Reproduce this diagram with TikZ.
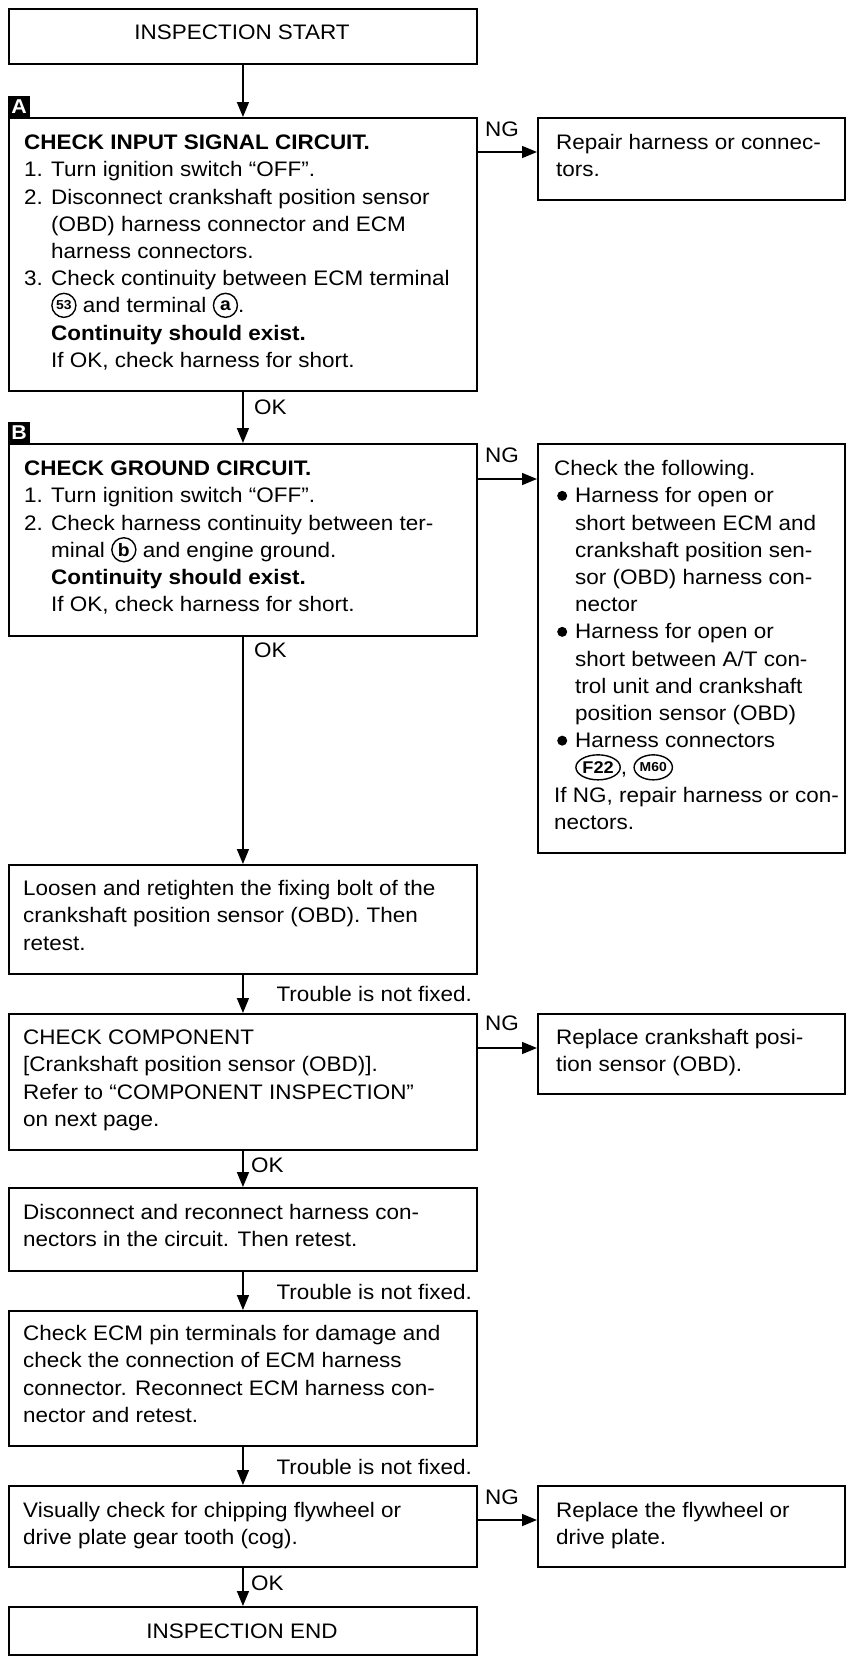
\documentclass[tikz,border=0pt]{standalone}
\usepackage{fontspec}
\setmainfont{Liberation Sans}[FakeStretch=1.07]
\usetikzlibrary{arrows.meta,shapes.geometric}
\newcommand{\bodyfont}{\fontsize{21}{27.2}\selectfont}
\newcommand{\cnum}[2][13]{\smash{\tikz[baseline=-7.5pt]\node[circle,draw,line width=1.4pt,minimum size=24pt,inner sep=0pt,anchor=center,font=\bfseries\fontsize{#1}{#1}\selectfont] (cn) {#2};}}
\newcommand{\connlab}[3]{\smash{\tikz[baseline=-7.5pt]\node[ellipse,draw,line width=1.4pt,minimum width=#1,minimum height=25pt,inner sep=0pt,anchor=center,font=\bfseries\fontsize{#2}{#2}\selectfont] (cc) {#3};}}
\newcommand{\bulmark}{\makebox[21pt][l]{\hspace*{3pt}\smash{\tikz[baseline=-7pt]\fill (0,0) circle (5pt);}}}
\newcommand{\stepnum}[1]{\makebox[27pt][l]{#1}}
\newcommand{\indA}{\hspace*{27pt}}
\newcommand{\indB}{\hspace*{21pt}}
\tikzset{
  box/.style={draw, line width=1.9pt, rectangle, inner sep=0pt, anchor=north west},
  mainbox/.style={box, minimum width=468pt},
  sidebox/.style={box, minimum width=307pt},
  txt/.style={anchor=north west, inner sep=0pt, align=left, font=\bodyfont},
  lbl/.style={inner sep=0pt, font=\bodyfont},
  arr/.style={line width=1.5pt, -{Triangle[length=15pt,width=12pt]}},
  tag/.style={fill=black, text=white, inner sep=0pt, minimum width=22pt, minimum height=21pt, anchor=south west, font=\bfseries\fontsize{20}{20}\selectfont},
}
\begin{document}
\begin{tikzpicture}[x=1pt,y=-1pt]
\fill[white] (0,0) rectangle (846,1657);
\useasboundingbox (0,0) rectangle (846,1657);

% boxes
\node[mainbox, minimum height=55pt] (start) at (8,8) {};
\node[mainbox, minimum height=273pt] (A) at (8,117) {};
\node[sidebox, minimum height=82pt] (R1) at (537,117) {};
\node[mainbox, minimum height=192pt] (B) at (8,443) {};
\node[sidebox, minimum height=409pt] (R2) at (537,443) {};
\node[mainbox, minimum height=109pt] (L) at (8,864) {};
\node[mainbox, minimum height=136pt] (C) at (8,1013) {};
\node[sidebox, minimum height=80pt] (R3) at (537,1013) {};
\node[mainbox, minimum height=83pt] (D) at (8,1187) {};
\node[mainbox, minimum height=135pt] (E) at (8,1310) {};
\node[mainbox, minimum height=81pt] (V) at (8,1485) {};
\node[sidebox, minimum height=81pt] (R4) at (537,1485) {};
\node[mainbox, minimum height=48pt] (end) at (8,1606) {};

% tags
\node[tag] (tagA) at (A.north west) {A};
\node[tag] (tagB) at (B.north west) {B};

% texts
\node[lbl, anchor=base] (tStart) at (242,39) {INSPECTION START};
\node[lbl, anchor=base] (tEnd) at (242,1638) {INSPECTION END};

\node[txt] (tA) at (24,130.4) {\strut\textbf{CHECK INPUT SIGNAL CIRCUIT.}\\
\stepnum{1.}Turn ignition switch “OFF”.\\
\stepnum{2.}Disconnect crankshaft position sensor\\
\indA(OBD) harness connector and ECM\\
\indA harness connectors.\\
\stepnum{3.}Check continuity between ECM terminal\\
\indA\cnum{53} and terminal \cnum[18]{a}.\\
\indA\textbf{Continuity should exist.}\\
\indA If OK, check harness for short.};

\node[txt] (tR1) at (556,130.4) {\strut Repair harness or connec-\\tors.};

\node[txt] (tB) at (24,456.4) {\strut\textbf{CHECK GROUND CIRCUIT.}\\
\stepnum{1.}Turn ignition switch “OFF”.\\
\stepnum{2.}Check harness continuity between ter-\\
\indA minal \cnum[18]{b} and engine ground.\\
\indA\textbf{Continuity should exist.}\\
\indA If OK, check harness for short.};

\node[txt] (tR2) at (554,456.4) {\strut Check the following.\\
\bulmark Harness for open or\\
\indB short between ECM and\\
\indB crankshaft position sen-\\
\indB sor (OBD) harness con-\\
\indB nector\\
\bulmark Harness for open or\\
\indB short between A/T con-\\
\indB trol unit and crankshaft\\
\indB position sensor (OBD)\\
\bulmark Harness connectors\\
\indB\connlab{40pt}{17}{F22}, \connlab{31pt}{13}{M60}\\
If NG, repair harness or con-\\
nectors.};

\node[txt] (tL) at (23,876.4) {\strut Loosen and retighten the fixing bolt of the\\
crankshaft position sensor (OBD). Then\\
retest.};

\node[txt] (tC) at (23,1025.4) {\strut CHECK COMPONENT\\
{[}Crankshaft position sensor (OBD){]}.\\
Refer to “COMPONENT INSPECTION”\\
on next page.};

\node[txt] (tR3) at (556,1025.4) {\strut Replace crankshaft posi-\\tion sensor (OBD).};

\node[txt] (tD) at (23,1200.4) {\strut Disconnect and reconnect harness con-\\
nectors in the circuit. Then retest.};

\node[txt] (tE) at (23,1321.4) {\strut Check ECM pin terminals for damage and\\
check the connection of ECM harness\\
connector. Reconnect ECM harness con-\\
nector and retest.};

\node[txt] (tV) at (23,1498.4) {\strut Visually check for chipping flywheel or\\
drive plate gear tooth (cog).};

\node[txt] (tR4) at (556,1498.4) {\strut Replace the flywheel or\\drive plate.};

% connector labels
\node[lbl, anchor=base] (ngA) at (502,136.5) {NG};
\node[lbl, anchor=base] (ngB) at (502,462.5) {NG};
\node[lbl, anchor=base] (ngC) at (502,1030.5) {NG};
\node[lbl, anchor=base] (ngV) at (502,1504.5) {NG};
\node[lbl, anchor=base west] (okA) at (254,414.5) {OK};
\node[lbl, anchor=base west] (okB) at (254,657.5) {OK};
\node[lbl, anchor=base west] (okC) at (251,1172.5) {OK};
\node[lbl, anchor=base west] (okV) at (251,1590.5) {OK};
\node[lbl, anchor=base east] (trL) at (472,1001.5) {Trouble is not fixed.};
\node[lbl, anchor=base east] (trD) at (472,1299.5) {Trouble is not fixed.};
\node[lbl, anchor=base east] (trE) at (472,1474.5) {Trouble is not fixed.};

% connectors
\coordinate (yA) at (0,152);
\coordinate (yB) at (0,479);
\coordinate (yC) at (0,1048);
\coordinate (yV) at (0,1520);
\draw[arr] (start) -- (A);
\draw[arr] (A) -- (B);
\draw[arr] (B) -- (L);
\draw[arr] (L) -- (C);
\draw[arr] (C) -- (D);
\draw[arr] (D) -- (E);
\draw[arr] (E) -- (V);
\draw[arr] (V) -- (end);
\draw[arr] (A.east |- yA) -- (R1.west |- yA);
\draw[arr] (B.east |- yB) -- (R2.west |- yB);
\draw[arr] (C.east |- yC) -- (R3.west |- yC);
\draw[arr] (V.east |- yV) -- (R4.west |- yV);
\end{tikzpicture}
\end{document}
